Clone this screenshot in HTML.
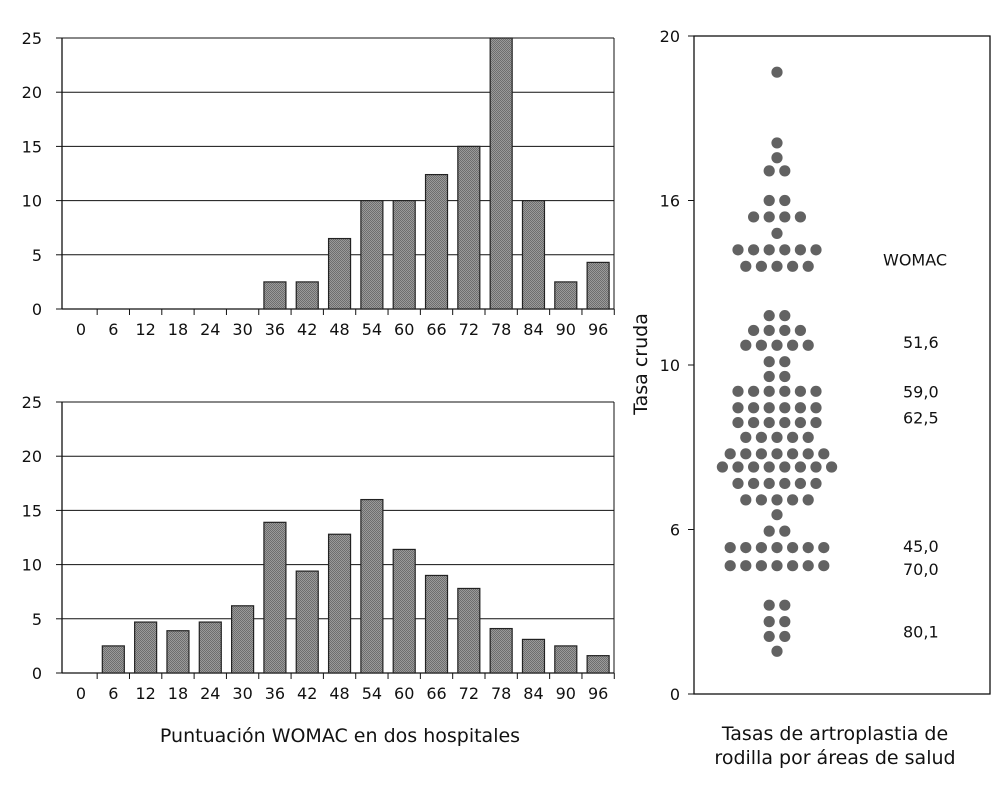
<!DOCTYPE html>
<html><head><meta charset="utf-8"><style>
body{margin:0;background:#fff;}
svg{display:block;font-family:"DejaVu Sans","Liberation Sans",sans-serif;}
text{fill:#111;}
</style></head><body>
<svg id="svg" width="1001" height="786" viewBox="0 0 1001 786"></svg>
<script>
const categories=["0","6","12","18","24","30","36","42","48","54","60","66","72","78","84","90","96"];
const hospitalA=[0,0,0,0,0,0,2.5,2.5,6.5,10,10,12.4,15,25,10,2.5,4.3];
const hospitalB=[0,2.5,4.7,3.9,4.7,6.2,13.9,9.4,12.8,16,11.4,9,7.8,4.1,3.1,2.5,1.6];
const yTicks=[0,5,10,15,20,25];
const dotRowValues=[18.9,16.75,16.3,15.9,15.0,14.5,14.0,13.5,13.0,11.5,11.05,10.6,10.1,9.65,9.2,8.7,8.25,7.8,7.3,6.9,6.4,5.9,5.45,4.95,4.45,3.9,2.7,2.2,1.75,1.3];
const dotRowCounts=[1,1,1,2,2,4,1,6,5,2,4,5,2,2,6,6,6,5,7,8,6,5,1,2,7,7,2,2,2,1];
const dotTickValues=[0,5,10,15,20];
const dotTickLabels=["0","6","10","16","20"];
const womacLabels=["WOMAC","51,6","59,0","62,5","45,0","70,0","80,1"];
const womacValues=[13.2,10.7,9.2,8.4,4.5,3.8,1.9];

const NS="http://www.w3.org/2000/svg";
const svg=document.getElementById('svg');
function el(tag,attrs,parent){const e=document.createElementNS(NS,tag);for(const k in attrs)e.setAttribute(k,attrs[k]);(parent||svg).appendChild(e);return e;}
const defs=el('defs',{});
const pat=el('pattern',{id:'hatch',width:2,height:2,patternUnits:'userSpaceOnUse'},defs);
el('rect',{width:2,height:2,fill:'#9a9a9a'},pat);
el('rect',{width:1,height:1,fill:'#6e6e6e'},pat);
el('rect',{x:1,y:1,width:1,height:1,fill:'#6e6e6e'},pat);

function histogram(vals,y0,y25,name){
  const g=el('g',{});
  
  
  const L=62,R=614;
  const ys=v=>y0-(v/25)*(y0-y25);
  const xs=i=>81+i*32.32;
  yTicks.forEach(t=>{
    const y=ys(t);
    if(t>0){const gl=el('line',{x1:L,x2:R,y1:y,y2:y,stroke:'#111','stroke-width':1},g);
      }
    el('line',{x1:L-6,x2:L,y1:y,y2:y,stroke:'#111'},g);
    const tx=el('text',{x:42,y:y+6,'text-anchor':'end','font-size':16},g);tx.textContent=t;
    
  });
  el('line',{x1:L,x2:L,y1:y25,y2:y0,stroke:'#111','stroke-width':1.3},g);
  el('line',{x1:R,x2:R,y1:y25,y2:y0,stroke:'#111','stroke-width':1},g);
  el('line',{x1:L,x2:R,y1:y0,y2:y0,stroke:'#111','stroke-width':1.3},g);
  categories.forEach((c,i)=>{
    const x=xs(i);
    el('line',{x1:x+16.16,x2:x+16.16,y1:y0,y2:y0+6,stroke:'#111'},g);
    const tx=el('text',{x:x,y:y0+26,'text-anchor':'middle','font-size':16},g);tx.textContent=c;
    
    if(vals[i]>0){
      const r=el('rect',{x:x-11,y:ys(vals[i]),width:22,height:y0-ys(vals[i]),fill:'url(#hatch)',stroke:'#222','stroke-width':1.2},g);
      
    }
  });
}
histogram(hospitalA,309,38,'histogram-hospital-a');
histogram(hospitalB,673,402,'histogram-hospital-b');
const xt=el('text',{x:340,y:742,'text-anchor':'middle','font-size':19});
xt.textContent='Puntuación WOMAC en dos hospitales';


// dot plot
const dg=el('g',{});


const DY0=694,DY20=36;
const dy=v=>DY0-(v/20)*(DY0-DY20);
const frame=el('rect',{x:694,y:36,width:296,height:658,fill:'none',stroke:'#111','stroke-width':1.3},dg);

dotTickValues.forEach((v,i)=>{
  const y=dy(v);
  el('line',{x1:688,x2:694,y1:y,y2:y,stroke:'#111'},dg);
  const tx=el('text',{x:680,y:y+6,'text-anchor':'end','font-size':16},dg);tx.textContent=dotTickLabels[i];
  
});
dotRowValues.forEach((v,r)=>{
  const n=dotRowCounts[r];
  for(let k=0;k<n;k++){
    const cx=777+(k-(n-1)/2)*15.6;
    const c=el('circle',{cx:cx,cy:dy(v),r:5.6,fill:'#626262'},dg);
    
  }
});
womacLabels.forEach((l,i)=>{
  const tx=el('text',{x:i===0?883:903,y:dy(womacValues[i])+6,'font-size':16},dg);tx.textContent=l;
  
});
const yt=el('text',{x:0,y:0,'text-anchor':'middle','font-size':19,transform:'translate(647,364) rotate(-90)'});
yt.textContent='Tasa cruda';

const t1=el('text',{x:835,y:740,'text-anchor':'middle','font-size':19});t1.textContent='Tasas de artroplastia de';

const t2=el('text',{x:835,y:764,'text-anchor':'middle','font-size':19});t2.textContent='rodilla por áreas de salud';

</script>
</body></html>
